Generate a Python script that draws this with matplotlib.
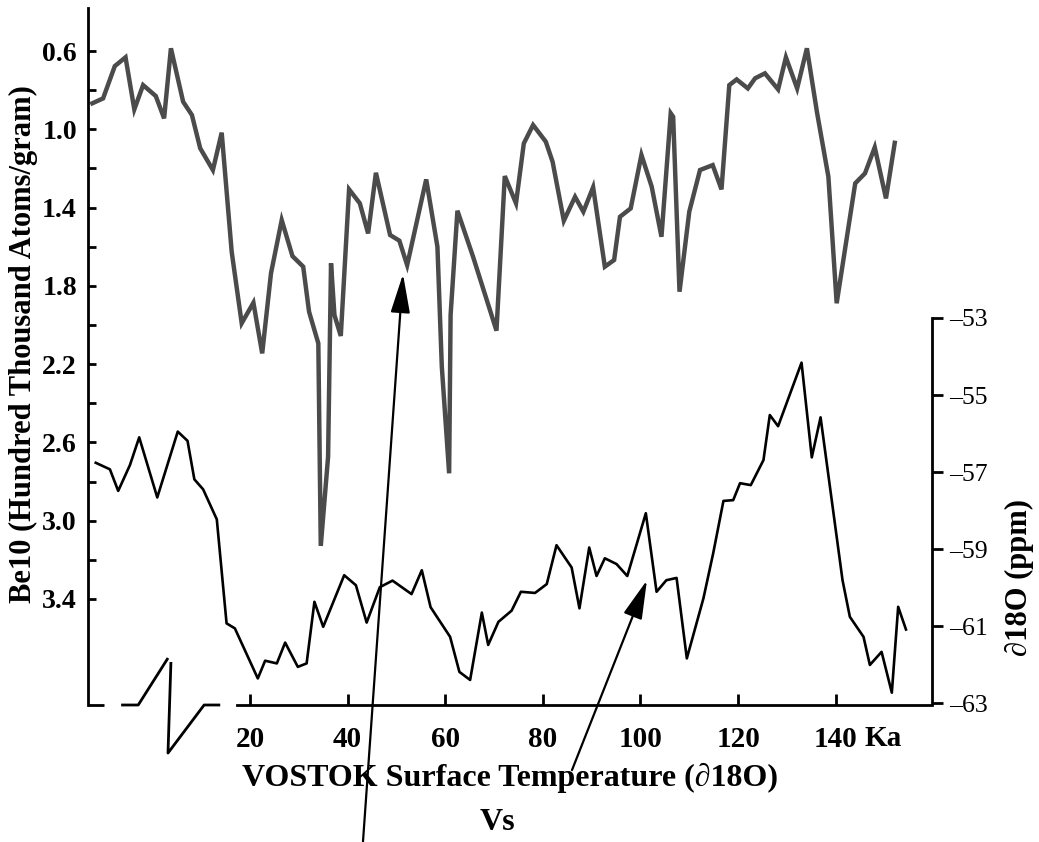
import numpy as np
import matplotlib
matplotlib.use('Agg')
import matplotlib.pyplot as plt
from matplotlib.transforms import blended_transform_factory

plt.rcParams['font.family'] = ['Liberation Serif', 'DejaVu Serif']

# Be10 record (gray), age in Ka vs hundred thousand atoms/gram
be_age = [-12.3, -10.1, -7.7, -5.5, -3.7, -1.9, 0.7, 2.4, 3.8, 6.3, 8.1, 9.8, 12.4, 14.2,
          16.25, 18.3, 20.7, 22.5, 24.3, 26.5, 28.7, 30.9, 32.1, 34.0, 34.5, 36.0, 36.6,
          37.3, 38.6, 40.3, 42.5, 44.2, 45.8, 48.7, 50.6, 52.2, 56.1, 58.4, 59.3, 60.8,
          61.1, 62.5, 65.7, 70.5, 72.2, 74.5, 76.1, 78.0, 80.6, 82.0, 84.3, 86.6, 88.3,
          90.3, 92.7, 94.6, 95.8, 98.0, 100.2, 102.3, 104.3, 106.2, 106.7, 108.0, 110.0,
          112.2, 114.8, 116.6, 118.2, 119.7, 122.0, 123.5, 125.5, 128.2, 129.8, 132.1,
          134.1, 136.2, 138.5, 140.2, 142.2, 144.0, 146.0, 148.0, 150.3, 152.1]
be_val = [0.867, 0.842, 0.677, 0.632, 0.898, 0.774, 0.830, 0.944, 0.586, 0.859, 0.927,
          1.097, 1.208, 1.017, 1.626, 1.991, 1.886, 2.145, 1.736, 1.464, 1.648, 1.702,
          1.932, 2.094, 3.129, 2.673, 1.685, 1.949, 2.056, 1.307, 1.378, 1.532, 1.222,
          1.540, 1.569, 1.694, 1.256, 1.600, 2.213, 2.758, 1.949, 1.416, 1.651, 2.029,
          1.239, 1.378, 1.072, 0.978, 1.063, 1.166, 1.467, 1.345, 1.421, 1.296, 1.702,
          1.668, 1.447, 1.404, 1.131, 1.293, 1.549, 0.918, 0.936, 1.830, 1.421, 1.208,
          1.183, 1.307, 0.774, 0.745, 0.791, 0.739, 0.714, 0.796, 0.632, 0.791, 0.586,
          0.918, 1.242, 1.889, 1.566, 1.276, 1.225, 1.092, 1.353, 1.069]

# VOSTOK d18O record (black)
o18_age = [-11.6, -8.7, -7.0, -4.6, -2.7, 1.0, 5.2, 7.2, 8.6, 10.4, 13.2, 15.2, 16.9,
           21.6, 23.1, 25.5, 27.2, 29.8, 31.6, 33.2, 35.0, 39.3, 41.7, 43.9, 46.6, 49.2,
           53.1, 55.2, 57.0, 61.0, 62.9, 65.1, 67.5, 68.8, 70.9, 73.6, 75.5, 78.4, 80.8,
           82.8, 85.9, 87.5, 89.5, 91.0, 92.7, 95.1, 97.3, 101.1, 103.3, 105.3, 107.4,
           109.5, 112.9, 114.9, 117.0, 119.0, 120.4, 122.6, 125.2, 126.5, 128.2, 133.0,
           135.1, 136.9, 141.4, 142.9, 145.7, 147.0, 149.4, 151.5, 152.8, 154.4]
o18_val = [-56.76, -56.93, -57.49, -56.82, -56.10, -57.66, -55.95, -56.19, -57.19, -57.45,
           -58.23, -60.93, -61.06, -62.36, -61.90, -61.97, -61.43, -62.06, -61.97, -60.37,
           -61.02, -59.68, -59.94, -60.91, -59.99, -59.82, -60.17, -59.55, -60.51, -61.28,
           -62.19, -62.40, -60.65, -61.49, -60.89, -60.60, -60.11, -60.14, -59.91, -58.90,
           -59.48, -60.54, -58.96, -59.70, -59.24, -59.39, -59.70, -58.07, -60.11, -59.81,
           -59.75, -61.84, -60.28, -59.11, -57.75, -57.73, -57.29, -57.34, -56.69, -55.52,
           -55.81, -54.16, -56.62, -55.58, -59.81, -60.76, -61.28, -62.01, -61.67, -62.73,
           -60.50, -61.09]

x_ticks = [20, 40, 60, 80, 100, 120, 140]
be_ticks = [0.6, 0.8, 1.0, 1.2, 1.4, 1.6, 1.8, 2.0, 2.2, 2.4, 2.6, 2.8, 3.0, 3.2, 3.4]
be_labels = ['0.6', '', '1.0', '', '1.4', '', '1.8', '', '2.2', '', '2.6', '', '3.0', '', '3.4']
o18_ticks = [-53, -55, -57, -59, -61, -63]

fig = plt.figure(figsize=(10.39, 8.42), dpi=100)
ax = fig.add_axes([88 / 1039, 1 - 705 / 842, 844 / 1039, 697 / 842])
ax2 = ax.twinx()

ax.plot(be_age, be_val, color='#4b4b4b', lw=3.2, solid_joinstyle='miter')
ax2.plot(o18_age, o18_val, color='black', lw=1.9)

ax.set_xlim(-13.19, 159.73)
ax.set_ylim(3.942, 0.380)
ax2.set_ylim(-63.05, -44.95)

for s in ['top', 'right']:
    ax.spines[s].set_visible(False)
for s in ['top', 'left', 'bottom']:
    ax2.spines[s].set_visible(False)
ax.spines['left'].set_linewidth(2)
ax.spines['bottom'].set_linewidth(2)
ax.spines['bottom'].set_bounds(17.3, 159.73)
ax2.spines['right'].set_linewidth(2)
ax2.spines['right'].set_bounds(-63, -53)

ax.set_yticks(be_ticks)
ax.set_yticklabels(be_labels, fontweight='bold', fontsize=20)
ax.tick_params(axis='y', direction='in', length=6, width=2, pad=8)
ax.set_xticks(x_ticks)
ax.set_xticklabels([str(t) for t in x_ticks], fontweight='bold', fontsize=21)
ax.tick_params(axis='x', direction='in', length=8, width=2, pad=15)

ax2.set_yticks(o18_ticks)
ax2.set_yticklabels(['\u2013' + str(-t) for t in o18_ticks], fontsize=18.5)
ax2.tick_params(axis='y', direction='out', length=8, width=2, pad=4)

fig.text(23 / 1039, 1 - 344 / 842, 'Be10 (Hundred Thousand Atoms/gram)', rotation=90,
         ha='center', va='center', fontweight='bold', fontsize=22)
fig.text(1019 / 1039, 1 - 578 / 842, '\u220218O (ppm)', rotation=90, ha='center',
         va='center', fontweight='bold', fontsize=22)

# "Ka" after the last tick label
bt = blended_transform_factory(ax.transData, fig.transFigure)
ax.text(146.0, 1 - 738 / 842, 'Ka', transform=bt, ha='left', va='center',
        fontweight='bold', fontsize=21)
fig.text(510 / 1039, 1 - 778 / 842, 'VOSTOK Surface Temperature (\u220218O)', ha='center',
         va='center', fontweight='bold', fontsize=23)
fig.text(497 / 1039, 1 - 823 / 842, 'Vs', ha='center', va='center',
         fontweight='bold', fontsize=23)

# broken x-axis at the left
ba = blended_transform_factory(ax.transData, ax.transAxes)
kw = dict(color='black', lw=2, transform=ba, clip_on=False, solid_capstyle='butt')
ax.plot([-13.19, -9.9], [0, 0], **kw)
ax.plot([-6.4, -2.9, 3.2], [0, 0, 0.0674], **kw)
ax.plot([3.8, 3.2, 10.6, 13.9], [0.0617, -0.0689, 0, 0], **kw)

# arrows
ap = dict(arrowstyle='-|>,head_length=1.2,head_width=0.3', color='black', lw=1.6,
          mutation_scale=20, shrinkA=0, shrinkB=0)
ax.annotate('', xy=(51.35, 1.74), xytext=(43.15, 4.64), arrowprops=ap,
            annotation_clip=False)
ax2.annotate('', xy=(101.33, -59.81), xytext=(85.97, -64.74), arrowprops=ap,
             annotation_clip=False)

fig.savefig('out.png', dpi=100)
